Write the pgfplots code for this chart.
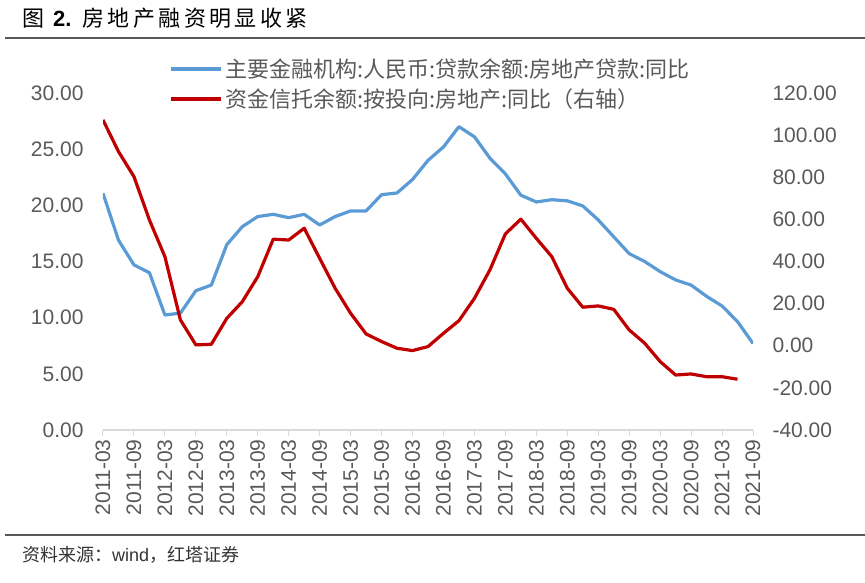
\documentclass[border=0pt]{standalone}
\usepackage{pgfplots}
\pgfplotsset{compat=1.18}
\usepackage{pgfplotstable}
\usepackage{fontspec}
\setmainfont{Liberation Sans}
\newfontfamily\cjk{Noto Sans CJK SC}
\definecolor{lblue}{RGB}{91,155,213}
\definecolor{dred}{RGB}{192,0,0}
\definecolor{tgray}{RGB}{89,89,89}
\definecolor{agray}{RGB}{217,217,217}

% loan growth, quarterly from 2011-03
\pgfplotstableread{
i v
0 21.07
1 16.9
2 14.7
3 14.0
4 10.24
5 10.4
6 12.4
7 12.9
8 16.5
9 18.1
10 19.0
11 19.2
12 18.9
13 19.2
14 18.25
15 19.0
16 19.5
17 19.5
18 20.95
19 21.1
20 22.3
21 24.0
22 25.2
23 27.0
24 26.1
25 24.2
26 22.8
27 20.9
28 20.3
29 20.5
30 20.4
31 19.95
32 18.7
33 17.2
34 15.7
35 15.0
36 14.1
37 13.36
38 12.9
39 11.9
40 11.04
41 9.65
42 7.7
}\loantable

% trust balance growth (right axis)
\pgfplotstableread{
i v
0 107.2
1 92.2
2 80.3
3 59.7
4 42.3
5 12.3
6 0.4
7 0.7
8 13.0
9 20.9
10 32.8
11 50.6
12 50.2
13 55.8
14 41.5
15 27.3
16 15.4
17 5.6
18 2.0
19 -1.2
20 -2.3
21 -0.4
22 5.9
23 11.9
24 22.5
25 36.0
26 53.1
27 60.1
28 51.0
29 42.3
30 27.3
31 18.3
32 18.9
33 17.3
34 7.5
35 1.2
36 -7.5
37 -13.9
38 -13.4
39 -14.7
40 -14.7
41 -15.9
}\trusttable

\pgfplotsset{
  common/.style={
    at={(103pt,153pt)}, anchor=south west,
    scale only axis, width=650pt, height=337pt,
    xmin=0, xmax=42,
    y axis line style={draw=none},
    ytick style={draw=none},
    yticklabel style={font=\fontsize{21}{21}\selectfont, text=tgray,
      /pgf/number format/fixed, /pgf/number format/fixed zerofill,
      /pgf/number format/precision=2, /pgf/number format/assume math mode=true},
  },
}
\def\s{\hspace{3.4pt}}

\begin{document}
\begin{tikzpicture}[x=1pt,y=1pt]
\path[use as bounding box] (0,0) rectangle (865,583);
\draw[line width=1.5pt, color=black!65] (5,545) -- (865,545);
\node[anchor=west, inner sep=0pt] at (22,565) {\fontsize{22}{22}\selectfont{\cjk 图}\hspace{9pt}\textbf{2.}\hspace{11pt}{\cjk 房\s 地\s 产\s 融\s 资\s 明\s 显\s 收\s 紧}};
\draw[line width=1.5pt, color=black!65] (5,48) -- (865,48);
\node[anchor=west, inner sep=0pt, text=black!80] at (22,28) {\fontsize{18}{18}\selectfont{\cjk 资料来源：}wind{\cjk ，红塔证券}};

\begin{axis}[common,
  ymin=0, ymax=30, ytick={0,5,...,30},
  axis x line*=bottom, axis y line*=left,
  yticklabel style={/tikz/xshift=-10pt},
  x axis line style={draw=agray, line width=1.2pt},
  xtick={0,2,...,42},
  xticklabels={2011-03,2011-09,2012-03,2012-09,2013-03,2013-09,2014-03,2014-09,2015-03,2015-09,2016-03,2016-09,2017-03,2017-09,2018-03,2018-09,2019-03,2019-09,2020-03,2020-09,2021-03,2021-09},
  xticklabel style={rotate=90, anchor=east, font=\fontsize{21}{21}\selectfont, text=tgray},
  x tick style={draw=agray, line width=1pt},
  tick align=outside, major tick length=6pt,
]
\addplot[lblue, line width=3.2pt, line join=round] table[x=i, y=v] {\loantable};
\end{axis}

\begin{axis}[common,
  ymin=-40, ymax=120, ytick={-40,-20,...,120},
  axis x line=none, axis y line*=right,
  yticklabel style={/tikz/xshift=16pt},
  legend style={at={(0.097,1.027)}, anchor=west, draw=none, fill=none,
    font=\cjk\fontsize{22}{24}\selectfont, text=tgray, row sep=6pt,
    nodes={inner sep=2pt}},
  legend cell align=left,
  legend image code/.code={\draw[#1] (0pt,0pt) -- (50pt,0pt);},
]
\addlegendimage{lblue, line width=4pt}
\addlegendentry{主要金融机构:人民币:贷款余额:房地产贷款:同比}
\addplot[dred, line width=3.2pt, line join=round] table[x=i, y=v] {\trusttable};
\addlegendentry{资金信托余额:按投向:房地产:同比（右轴）}
\end{axis}
\end{tikzpicture}
\end{document}
